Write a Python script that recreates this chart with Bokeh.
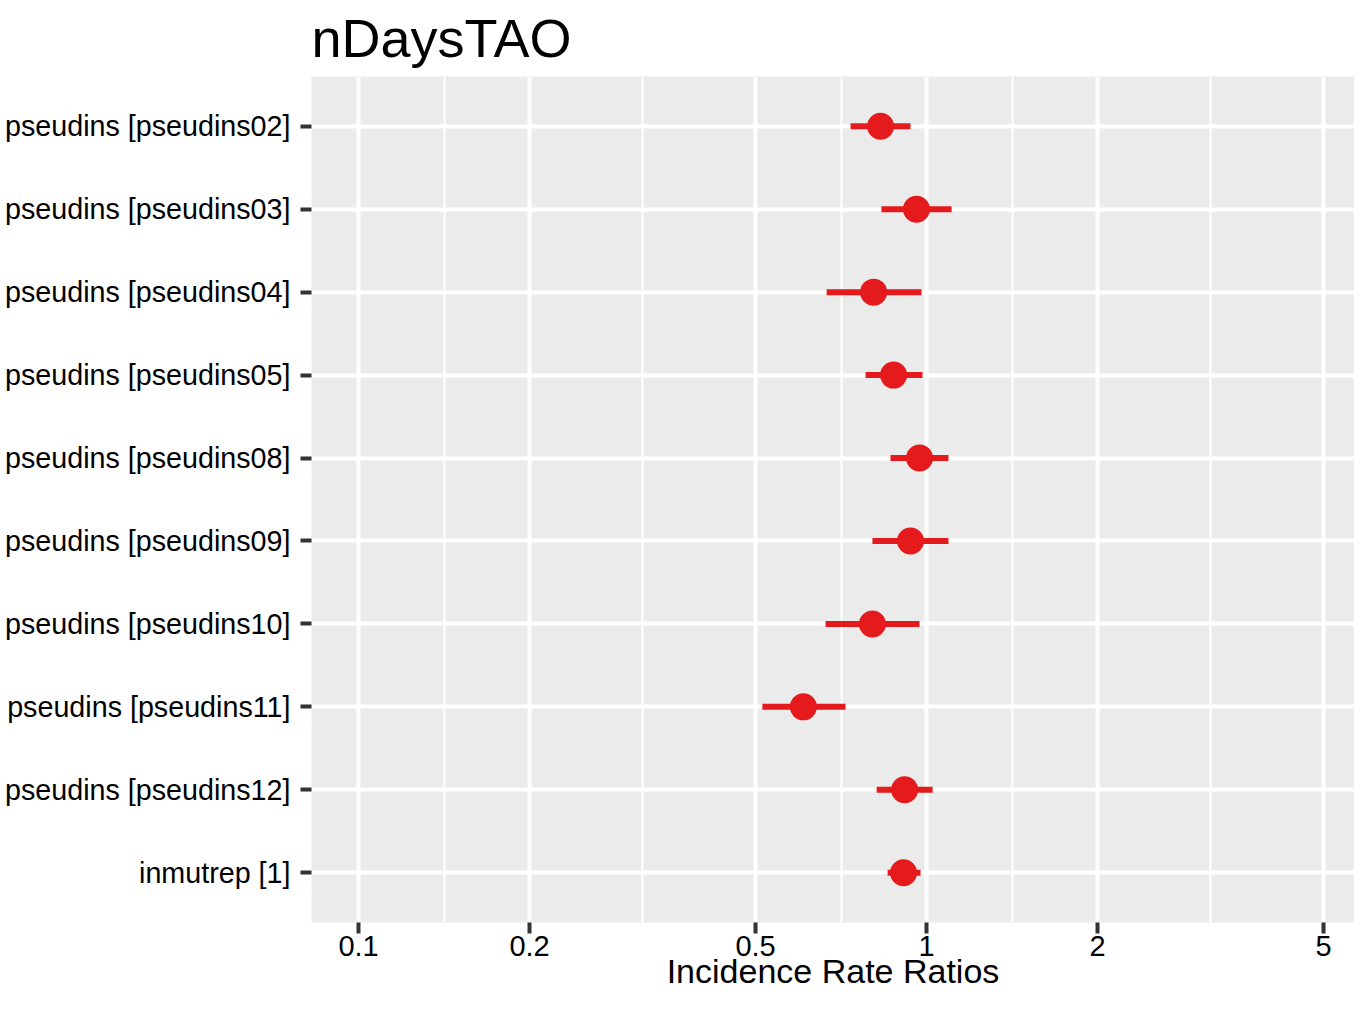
from bokeh.plotting import figure
from bokeh.models import FactorRange, Range1d, FixedTicker, NumeralTickFormatter
from bokeh.embed import file_html
from bokeh.resources import INLINE
import numpy as np

# ---- data ----
terms = [
    "pseudins [pseudins02]",
    "pseudins [pseudins03]",
    "pseudins [pseudins04]",
    "pseudins [pseudins05]",
    "pseudins [pseudins08]",
    "pseudins [pseudins09]",
    "pseudins [pseudins10]",
    "pseudins [pseudins11]",
    "pseudins [pseudins12]",
    "inmutrep [1]",
]
estimate = [0.830, 0.960, 0.807, 0.875, 0.972, 0.937, 0.803, 0.607, 0.915, 0.911]
conf_low = [0.735, 0.833, 0.667, 0.781, 0.864, 0.803, 0.664, 0.514, 0.817, 0.854]
conf_high = [0.937, 1.107, 0.980, 0.984, 1.093, 1.093, 0.972, 0.720, 1.025, 0.976]

x_breaks = [0.1, 0.2, 0.5, 1, 2, 5]
x_labels = ["0.1", "0.2", "0.5", "1", "2", "5"]
title_text = "nDaysTAO"
x_title = "Incidence Rate Ratios"

# minor grid breaks half-way (in log space) between major breaks, as ggplot does
minor_breaks = [float(np.sqrt(a * b)) for a, b in zip(x_breaks[:-1], x_breaks[1:])]

FONT = "Liberation Sans"
RED = "#E41A1C"

W, H = 1354, 993
LEFT, TOP, BOTTOM = 311, 76, 71

p = figure(
    width=W, height=H,
    x_axis_type="log",
    x_range=Range1d(0.08263, 5.669),
    y_range=FactorRange(factors=terms[::-1], range_padding=0.1,
                        range_padding_units="absolute"),
    output_backend="svg", toolbar_location=None,
    min_border_left=LEFT, min_border_right=0,
    min_border_top=TOP, min_border_bottom=BOTTOM,
    title=title_text,
)
p.background_fill_color = "#EBEBEB"
p.border_fill_color = "white"
p.outline_line_color = None

p.title.text_font = FONT
p.title.text_font_size = "54px"
p.title.text_font_style = "normal"
p.title.text_color = "black"
p.title.align = "left"
p.title.vertical_align = "top"
p.title.standoff = 13
p.title.offset = 0

# axes
xa = p.xaxis[0]
ya = p.yaxis[0]
xa.ticker = FixedTicker(ticks=x_breaks, minor_ticks=minor_breaks)
xa.formatter = NumeralTickFormatter(format="0.[0]")
xa.major_label_overrides = {b: l for b, l in zip(x_breaks, x_labels)}
for ax in (xa, ya):
    ax.axis_line_color = None
    ax.major_tick_line_color = "#333333"
    ax.major_tick_line_width = 4
    ax.major_tick_out = 11
    ax.major_tick_in = 0
    ax.minor_tick_line_color = None
    ax.major_label_text_font = FONT
    ax.major_label_text_color = "black"
xa.major_label_text_font_size = "29px"
ya.major_label_text_font_size = "28.7px"
xa.major_label_standoff = 2
ya.major_label_standoff = 10

xa.axis_label = x_title
xa.axis_label_text_font = FONT
xa.axis_label_text_font_size = "34px"
xa.axis_label_text_font_style = "normal"
xa.axis_label_text_color = "black"
xa.axis_label_standoff = -7

# grid
p.xgrid.grid_line_color = "white"
p.xgrid.grid_line_width = 4
p.xgrid.minor_grid_line_color = "white"
p.xgrid.minor_grid_line_width = 2
p.ygrid.grid_line_color = "white"
p.ygrid.grid_line_width = 4

# marks
p.segment(x0=conf_low, x1=conf_high, y0=terms, y1=terms,
          line_color=RED, line_width=6)
p.scatter(x=estimate, y=terms, size=27, fill_color=RED, line_color=RED, line_width=0)

open("out.html", "w").write(file_html(p, INLINE))
